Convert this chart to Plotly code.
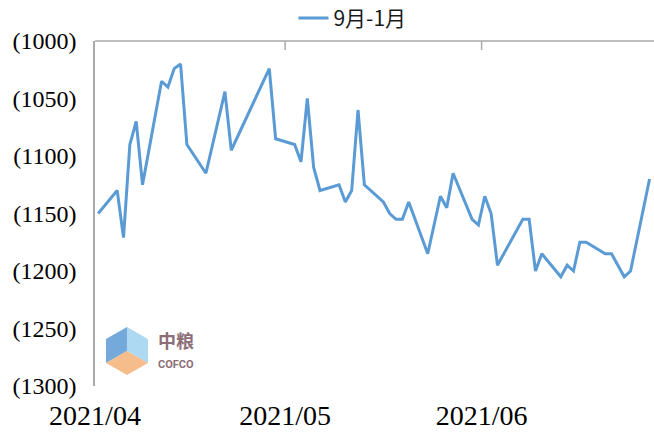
import plotly.graph_objects as go
import pandas as pd

# ---- data ----
dates = [
    "2021-04-02", "2021-04-05", "2021-04-06", "2021-04-07", "2021-04-08", "2021-04-09",
    "2021-04-12", "2021-04-13", "2021-04-14", "2021-04-15", "2021-04-16", "2021-04-19",
    "2021-04-22", "2021-04-23", "2021-04-29", "2021-04-30",
    "2021-05-03", "2021-05-04", "2021-05-05", "2021-05-06", "2021-05-07", "2021-05-10",
    "2021-05-11", "2021-05-12", "2021-05-13", "2021-05-14", "2021-05-17", "2021-05-18",
    "2021-05-19", "2021-05-20", "2021-05-21", "2021-05-24", "2021-05-26", "2021-05-27",
    "2021-05-28", "2021-05-31",
    "2021-06-01", "2021-06-02", "2021-06-03", "2021-06-04", "2021-06-08", "2021-06-09",
    "2021-06-10", "2021-06-11", "2021-06-14", "2021-06-15", "2021-06-16", "2021-06-17",
    "2021-06-18", "2021-06-21", "2021-06-22", "2021-06-24", "2021-06-25", "2021-06-28",
]
spread_9_1 = [
    -1150, -1130, -1171, -1090, -1070, -1125, -1035, -1040, -1024, -1020, -1090, -1115,
    -1044, -1095, -1024, -1085,
    -1090, -1105, -1050, -1110, -1130, -1125, -1140, -1130, -1060, -1125, -1140, -1150,
    -1155, -1155, -1140, -1185, -1135, -1145, -1115, -1155,
    -1160, -1135, -1150, -1195, -1155, -1155, -1200, -1185, -1205, -1195, -1200, -1175,
    -1175, -1185, -1185, -1205, -1200, -1120,
]
series_name = "9月-1月"

y_tick_values = [-1000, -1050, -1100, -1150, -1200, -1250, -1300]
y_tick_labels = [f"({abs(v)})" for v in y_tick_values]

x_tick_values = ["2021-04-01 12:00", "2021-05-01 12:00", "2021-06-01 12:00"]
x_tick_labels = ["2021/04", "2021/05", "2021/06"]

x_start = pd.Timestamp("2021-04-01 12:00")
x_end = x_start + pd.Timedelta(days=88.2)

AXIS_GRAY = "#A9A9A9"
SERIF = "Liberation Serif, Times New Roman, serif"
PLOT_H = 345  # plot-area height in px (432 - 41 - 46)

fig = go.Figure()
fig.add_trace(go.Scatter(
    x=dates, y=spread_9_1, mode="lines", name=series_name,
    line=dict(color="#5B9BD5", width=3),
    showlegend=True,
))

fig.update_layout(
    width=654, height=432,
    margin=dict(l=95, r=0, t=41, b=46, autoexpand=False),
    paper_bgcolor="white", plot_bgcolor="white",
    showlegend=True,
    legend=dict(
        orientation="h", x=0.355, xanchor="left", y=1.125, yanchor="top",
        font=dict(family="Noto Sans CJK SC, sans-serif", size=21, color="#1a1a1a"),
        bgcolor="rgba(0,0,0,0)",
    ),
    xaxis=dict(
        type="date", range=[x_start, x_end], automargin=False,
        tickmode="array", tickvals=x_tick_values, ticktext=x_tick_labels,
        showgrid=False, showline=False, zeroline=False, ticks="",
        tickfont=dict(family=SERIF, size=28, color="black"),
        ticklabelstandoff=10,
    ),
    yaxis=dict(
        range=[-1300, -1000], automargin=False,
        tickmode="array", tickvals=y_tick_values, ticktext=y_tick_labels,
        showgrid=False, zeroline=False, ticks="",
        showline=True, linecolor=AXIS_GRAY, linewidth=1.5,
        tickfont=dict(family=SERIF, size=24, color="black"),
        ticklabelstandoff=12,
    ),
)

# top border of the plot area with inward month tick marks (Excel-style category axis at the top)
fig.add_shape(type="line", xref="paper", yref="paper", x0=0, x1=1, y0=1, y1=1,
              line=dict(color=AXIS_GRAY, width=1.5))
for tv in x_tick_values[1:]:
    fig.add_shape(type="line", xref="x", yref="paper", x0=tv, x1=tv,
                  y0=1, y1=1 - 9 / PLOT_H, line=dict(color=AXIS_GRAY, width=1.5))

# ---- decorative COFCO logo (watermark) ----
def px_to_paper(px, py):
    return (px - 95) / 559, (386 - py) / PLOT_H

cx, cy, r = 127, 351, 24
hexpts = {
    "top": (cx, cy - r), "ur": (cx + 21, cy - 12), "lr": (cx + 21, cy + 12),
    "bot": (cx, cy + r), "ll": (cx - 21, cy + 12), "ul": (cx - 21, cy - 12), "c": (cx, cy),
}
faces = [
    (["c", "ll", "ul", "top"], "rgba(91,155,213,0.85)"),
    (["c", "top", "ur", "lr"], "rgba(160,210,240,0.85)"),
    (["c", "lr", "bot", "ll"], "rgba(244,178,120,0.85)"),
]
for keys, col in faces:
    pts = [px_to_paper(*hexpts[k]) for k in keys]
    path = "M " + " L ".join(f"{x:.4f},{y:.4f}" for x, y in pts) + " Z"
    fig.add_shape(type="path", path=path, xref="paper", yref="paper",
                  fillcolor=col, line=dict(width=0), layer="below")

lx, ly = px_to_paper(176, 340)
fig.add_annotation(text="<b>中粮</b>", x=lx, y=ly, xref="paper", yref="paper", showarrow=False,
                   xanchor="center", yanchor="middle",
                   font=dict(family="Noto Sans CJK SC", size=18, color="#8C6E78"))
lx, ly = px_to_paper(176, 364)
fig.add_annotation(text="<b>COFCO</b>", x=lx, y=ly, xref="paper", yref="paper", showarrow=False,
                   xanchor="center", yanchor="middle",
                   font=dict(family="Roboto, sans-serif", size=11, color="#8C6E78"))

# remove the browser's default 8px page margin so the figure fills the window exactly
fig.write_html(
    "out.html",
    config={"displayModeBar": False},
    post_script="document.body.style.margin='0';document.body.style.padding='0';",
)
